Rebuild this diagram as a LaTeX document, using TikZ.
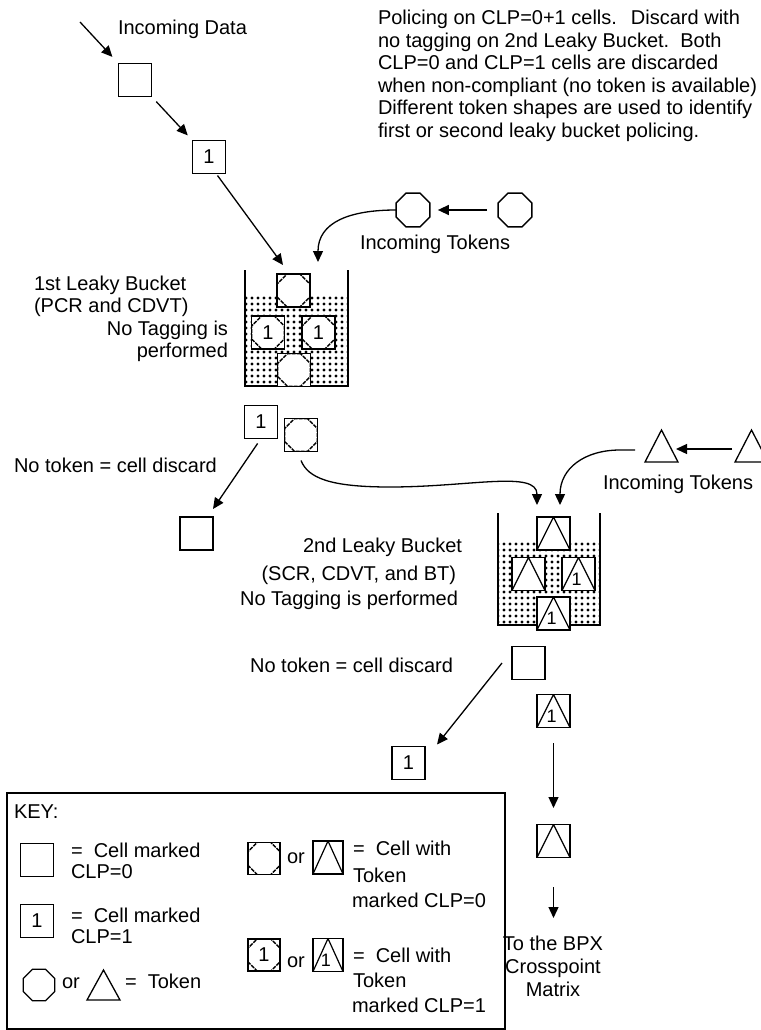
\documentclass[tikz,border=0pt]{standalone}
\usepackage{fontspec}
\setmainfont{Liberation Sans}
\usetikzlibrary{shapes.geometric,arrows.meta,patterns.meta}
\begin{document}
\begin{tikzpicture}[x=1pt,y=1pt,
  every node/.style={inner sep=0pt, outer sep=0pt},
  txt/.style={font=\fontsize{20}{22.4}\selectfont},
  lw/.style={line width=1.3pt},
  arr/.style={line width=1.3pt, -{Triangle[length=11pt,width=10pt]}},
  cell/.style={draw, line width=1.4pt, fill=white, minimum size=33pt, font=\fontsize{20}{22}\selectfont},
  octcell/.style={cell, path picture={\node[draw, fill=none, solid, regular polygon, regular polygon sides=8, minimum size=35pt, line width=1.3pt, dash pattern=on 4pt off 1pt] at (path picture bounding box.center) {};}},
  tricell/.style={cell, path picture={\draw[line width=1.2pt, solid] (path picture bounding box.south west) -- (path picture bounding box.north) -- (path picture bounding box.south east);}},
  trionecell/.style={cell, path picture={\draw[line width=1.2pt, solid] (path picture bounding box.south west) -- (path picture bounding box.north) -- (path picture bounding box.south east);
     \node[draw=none, fill=none, font=\fontsize{18}{18}\selectfont] at ([xshift=-2pt,yshift=-5pt]path picture bounding box.center) {1};}},
  tok/.style={draw, line width=1.3pt, regular polygon, regular polygon sides=8, minimum size=36.5pt},
  tritok/.style={minimum width=33pt, minimum height=32pt},
  wall/.style={line width=2pt},
  water/.style={pattern={Dots[distance=6pt, radius=1.7pt]}}
]
\useasboundingbox (0,0) rectangle (760,-1030);

% ---- explanatory paragraph
\node[txt, anchor=base west] (tp1) at (378,-25) {Policing on CLP=0+1 cells.\hspace{14pt}Discard with};
\node[txt, anchor=base west] (tp2) at (378,-47.4) {no tagging on 2nd Leaky Bucket.\ \ Both};
\node[txt, anchor=base west] (tp3) at (378,-69.8) {CLP=0 and CLP=1 cells are discarded};
\node[txt, anchor=base west] (tp4) at (378,-92.2) {when non-compliant (no token is available)};
\node[txt, anchor=base west] (tp5) at (378,-114.6) {Different token shapes are used to identify};
\node[txt, anchor=base west] (tp6) at (378,-137) {first or second leaky bucket policing.};

% ---- incoming data
\node[txt, anchor=base west] (tdata) at (118,-35) {Incoming Data};
\coordinate (src) at (80,-22);
\node[cell] (inA) at (135,-80) {};
\node[cell] (inB) at (209,-157) {1\hspace{12pt}};
\draw[arr, shorten >=9pt] (src) -- (inA.north west);
\draw[arr, shorten <=7pt, shorten >=7pt] (inA.south east) -- (inB.north west);

% ---- first leaky bucket
\fill[water] (246,-295) rectangle (347,-386);
\draw[wall] (245,-270) -- (245,-386) -- (277,-386) (311,-386) -- (348,-386) -- (348,-270);
\node[octcell] (b1t) at (293.5,-290.5) {};
\node[octcell] (b1l) at (268,-332.5) {1};
\node[octcell] (b1r) at (318.5,-332.5) {1};
\node[octcell] (b1b) at (294,-370) {};
\coordinate (b1in1) at (283,-265);
\coordinate (b1in2) at (318,-262);
\draw[arr] ([xshift=-8pt,yshift=-2pt]inB.south east) -- (b1in1);

\node[txt, anchor=base west] (l1a) at (34,-290) {1st Leaky Bucket};
\node[txt, anchor=base west] (l1b) at (34,-312) {(PCR and CDVT)};
\node[txt, anchor=base east] (l1c) at (228,-335) {No Tagging is};
\node[txt, anchor=base east] (l1d) at (228,-357) {performed};

% ---- first tokens
\node[tok] (tk1) at (413,-210) {};
\node[tok] (tk2) at (515,-210) {};
\draw[arr, shorten <=11pt, shorten >=8pt] (tk2.west) -- (tk1.east);
\draw[arr] (tk1.west) .. controls (350,-210) and (318,-222) .. (b1in2);
\node[txt, anchor=base west] (ttok1) at (360,-249) {Incoming Tokens};

% ---- outputs of first bucket
\node[cell] (o1) at (261,-422) {1};
\node[octcell] (o1t) at (301,-435) {};
\node[txt, anchor=base west] (nt1) at (14,-472) {No token = cell discard};
\node[cell] (d1) at (196.5,-533.5) {};
\draw[arr, shorten <=6pt] (o1.south) -- ([yshift=8pt]d1.north east);
\coordinate (b2in1) at (537,-505);
\coordinate (b2in2) at (560,-505);
\draw[arr] ([yshift=-9pt]o1t.south) .. controls (308,-478) and (330,-487) .. (390,-487)
   .. controls (470,-487) and (537,-470) .. (b2in1);

% ---- second tokens
\node[tritok] (tt1) at (661.5,-446) {};
\node[tritok] (tt2) at (751.5,-446) {};
\draw[lw] (tt1.south west) -- (tt1.north) -- (tt1.south east) -- cycle;
\draw[lw] (tt2.south west) -- (tt2.north) -- (tt2.south east) -- cycle;
\draw[arr, shorten <=3pt, shorten >=-2pt] ([yshift=-3pt]tt2.west) -- ([yshift=-3pt]tt1.east);
\draw[arr] ([shift={(-10pt,-4pt)}]tt1.west) -- ++(-15,0) .. controls (585,-450) and (560,-468) .. (b2in2);
\node[txt, anchor=base west] (ttok2) at (603,-489) {Incoming Tokens};

% ---- second leaky bucket
\fill[water] (499,-542) rectangle (599,-625);
\draw[wall] (498,-513) -- (498,-625) -- (538,-625) (569,-625) -- (600,-625) -- (600,-513);
\node[tricell] (b2t) at (553.5,-533.5) {};
\node[tricell] (b2l) at (528.5,-574) {};
\node[trionecell] (b2r) at (578.5,-574) {};
\node[trionecell] (b2b) at (553.5,-613.5) {};

\node[txt, anchor=base east] (l2a) at (462,-552) {2nd Leaky Bucket};
\node[txt, anchor=base east] (l2b) at (456,-580) {(SCR, CDVT, and BT)};
\node[txt, anchor=base east] (l2c) at (458,-605) {No Tagging is performed};

% ---- outputs of second bucket
\node[cell] (o2) at (528.5,-663) {};
\node[trionecell] (o2t) at (553.5,-711) {};
\node[txt, anchor=base east] (nt2) at (453,-672) {No token = cell discard};
\node[cell] (d2) at (408.5,-763) {1};
\draw[arr] ([xshift=-10pt]o2.west) -- ([shift={(12pt,2pt)}]d2.north east);
\node[tricell] (fin) at (553.5,-841) {};
\draw[arr, shorten <=15.5pt, shorten >=16.5pt] (o2t.south) -- (fin.north);
\coordinate (dest) at (553.5,-918);
\draw[arr, shorten <=29.5pt] (fin.south) -- (dest);
\node[txt, anchor=base] (to1) at (553,-950) {To the BPX};
\node[txt, anchor=base] (to2) at (553,-973) {Crosspoint};
\node[txt, anchor=base] (to3) at (553,-996) {Matrix};

% ---- key
\draw[line width=1.3pt] (7,-793) rectangle (505,-1029);
\node[txt, anchor=base west] (key) at (14,-818) {KEY:};
\node[cell] (kc0) at (37,-860) {};
\node[txt, anchor=base west] (kt0a) at (71,-857) {=\ \ Cell marked};
\node[txt, anchor=base west] (kt0b) at (71,-878) {CLP=0};
\node[cell] (kc1) at (37,-921) {1};
\node[txt, anchor=base west] (kt1a) at (71,-922) {=\ \ Cell marked};
\node[txt, anchor=base west] (kt1b) at (71,-943) {CLP=1};
\node[tok, minimum size=34pt] (ko) at (39,-985) {};
\node[txt, anchor=base west] (kor0) at (62,-988) {or};
\node[tritok, minimum height=30pt] (ktr) at (103.5,-985) {};
\draw[lw] (ktr.south west) -- (ktr.north) -- (ktr.south east) -- cycle;
\node[txt, anchor=base west] (kt2) at (125,-988) {=\ \ Token};

\node[octcell, minimum size=32pt] (kc2) at (264,-858.5) {};
\node[txt, anchor=base west] (kor1) at (287,-863) {or};
\node[tricell, minimum width=30pt] (kc3) at (328,-857.5) {};
\node[txt, anchor=base west] (kt3a) at (353,-855) {=\ \ Cell with};
\node[txt, anchor=base west] (kt3b) at (353,-882) {Token};
\node[txt, anchor=base west] (kt3c) at (352,-907) {marked CLP=0};

\node[octcell, minimum size=32pt] (kc4) at (264,-955) {1};
\node[txt, anchor=base west] (kor2) at (287,-967) {or};
\node[trionecell, minimum width=30pt] (kc5) at (328,-955) {};
\node[txt, anchor=base west] (kt4a) at (353,-962) {=\ \ Cell with};
\node[txt, anchor=base west] (kt4b) at (353,-987) {Token};
\node[txt, anchor=base west] (kt4c) at (352,-1012) {marked CLP=1};
\end{tikzpicture}
\end{document}
